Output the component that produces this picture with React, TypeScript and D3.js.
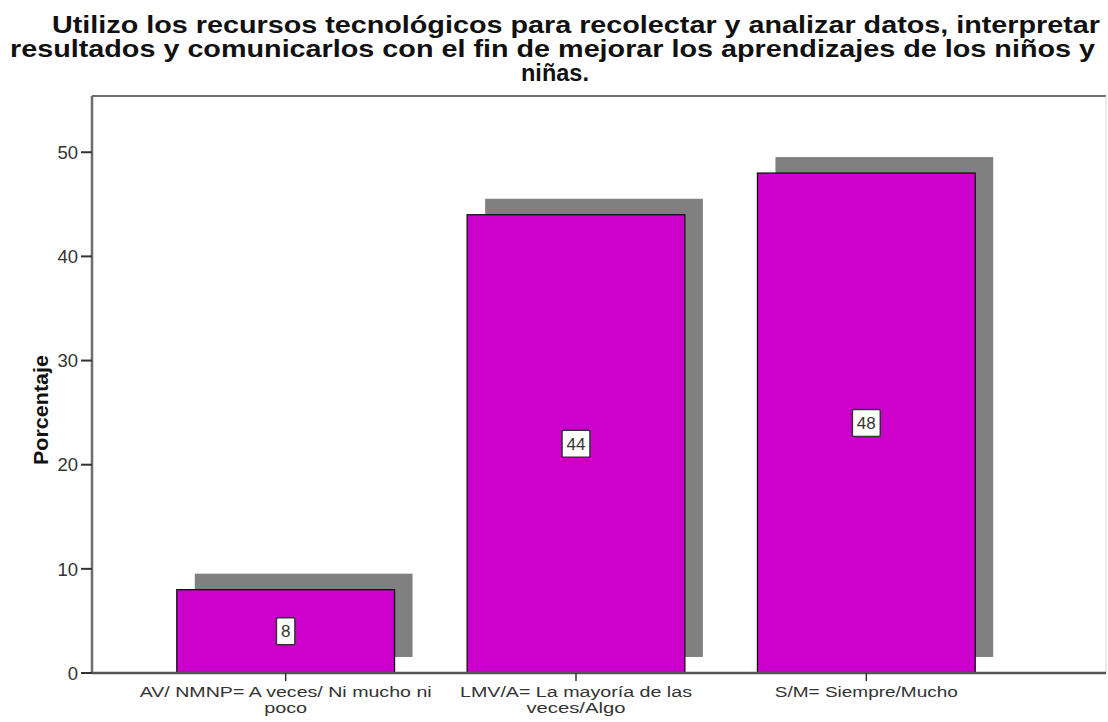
import React, { useEffect, useRef } from "react";
import * as d3 from "d3";

const titleLines = [
  "Utilizo los recursos tecnológicos para recolectar y analizar datos, interpretar",
  "resultados y comunicarlos con el fin de mejorar los aprendizajes de los niños y",
  "niñas.",
];
const categories = [
  "AV/ NMNP= A veces/ Ni mucho ni poco",
  "LMV/A= La mayoría de las veces/Algo",
  "S/M= Siempre/Mucho",
];
const categoryLines = [
  ["AV/ NMNP= A veces/ Ni mucho ni", "poco"],
  ["LMV/A= La mayoría de las", "veces/Algo"],
  ["S/M= Siempre/Mucho"],
];
const values = [8, 44, 48];
const yTicks = [0, 10, 20, 30, 40, 50];
const yLabel = "Porcentaje";

const W = 1108;
const H = 722;

export default function App() {
  const ref = useRef<SVGSVGElement>(null);

  useEffect(() => {
    const svg = d3.select(ref.current);
    svg.selectAll("*").remove();
    const font = "'Liberation Sans', Arial, sans-serif";

    const left = 92, right = 1106, top = 96, bottom = 673;
    const x = d3.scaleBand<string>().domain(categories).range([140.5, 1011.5]).paddingInner(0.25).paddingOuter(0.125);
    const y = d3.scaleLinear().domain([0, 55.4]).range([bottom, top]);

    // title
    const titleStarts = [52, 10, 521];
    const titleLens = [1048, 1085, 68];
    const tBase = [33, 57, 81];
    titleLines.forEach((t, i) => {
      svg.append("text")
        .attr("x", titleStarts[i]).attr("y", tBase[i])
        .attr("font-family", font).attr("font-weight", "bold").attr("font-size", 23.5)
        .attr("fill", "#111")
        .attr("textLength", titleLens[i]).attr("lengthAdjust", "spacingAndGlyphs")
        .text(t);
    });

    // frame
    svg.append("line").attr("x1", left).attr("x2", right).attr("y1", top).attr("y2", top)
      .attr("stroke", "#6e6e6e").attr("stroke-width", 2);
    svg.append("line").attr("x1", right).attr("x2", right).attr("y1", top).attr("y2", bottom)
      .attr("stroke", "#d8d8d8").attr("stroke-width", 1);

    // shadows
    const dx = 18, dy = -16;
    svg.append("g").selectAll("rect").data(values).join("rect")
      .attr("x", (d, i) => (x(categories[i]) as number) + dx)
      .attr("y", (d) => y(d) + dy)
      .attr("width", x.bandwidth())
      .attr("height", (d) => bottom - y(d))
      .attr("fill", "#808080");

    // bars
    svg.append("g").selectAll("rect").data(values).join("rect")
      .attr("x", (d, i) => x(categories[i]) as number)
      .attr("y", (d) => y(d))
      .attr("width", x.bandwidth())
      .attr("height", (d) => bottom - y(d))
      .attr("fill", "#cc00cc")
      .attr("stroke", "#111").attr("stroke-width", 1.3);

    // axes
    const yAxis = svg.append("g");
    yAxis.append("line").attr("x1", left).attr("x2", left).attr("y1", top).attr("y2", bottom)
      .attr("stroke", "#6e6e6e").attr("stroke-width", 2.5);
    yTicks.forEach((t) => {
      yAxis.append("line").attr("x1", left - 11).attr("x2", left).attr("y1", y(t)).attr("y2", y(t))
        .attr("stroke", "#333").attr("stroke-width", 2);
      yAxis.append("text").attr("x", left - 14).attr("y", y(t)).attr("dy", "0.36em")
        .attr("text-anchor", "end").attr("font-family", font).attr("font-size", 18.5)
        .attr("fill", "#333").text(String(t));
    });
    svg.append("line").attr("x1", left).attr("x2", right).attr("y1", bottom).attr("y2", bottom)
      .attr("stroke", "#555").attr("stroke-width", 2.5);

    // x ticks and labels
    const lineLens = [[292, 43], [232, 99], [183]];
    categories.forEach((c, i) => {
      const cx = (x(c) as number) + x.bandwidth() / 2;
      svg.append("line").attr("x1", cx).attr("x2", cx).attr("y1", bottom).attr("y2", bottom + 8)
        .attr("stroke", "#333").attr("stroke-width", 1.5);
      categoryLines[i].forEach((ln, j) => {
        svg.append("text").attr("x", cx).attr("y", 697 + j * 16)
          .attr("text-anchor", "middle").attr("font-family", font).attr("font-size", 15.5)
          .attr("fill", "#333")
          .attr("textLength", lineLens[i][j]).attr("lengthAdjust", "spacingAndGlyphs")
          .text(ln);
      });
    });

    // y label
    svg.append("text").attr("transform", `translate(48,410) rotate(-90)`)
      .attr("text-anchor", "middle").attr("font-family", font).attr("font-weight", "bold")
      .attr("font-size", 20).attr("fill", "#111")
      .attr("textLength", 110).attr("lengthAdjust", "spacingAndGlyphs")
      .text(yLabel);

    // value labels
    values.forEach((v, i) => {
      const cx = (x(categories[i]) as number) + x.bandwidth() / 2;
      const cy = y(v / 2);
      const g = svg.append("g");
      const rect = g.append("rect");
      const txt = g.append("text").attr("x", cx).attr("y", cy).attr("dy", "0.36em")
        .attr("text-anchor", "middle").attr("font-family", font).attr("font-size", 17)
        .attr("fill", "#333").text(String(v));
      const w = (txt.node() as SVGTextElement).getComputedTextLength() + 9;
      rect.attr("x", cx - w / 2).attr("y", cy - 13.5).attr("width", w).attr("height", 27)
        .attr("rx", 1.5).attr("fill", "#fff").attr("stroke", "#333").attr("stroke-width", 1.5);
    });
  }, []);

  return (
    <svg ref={ref} width={W} height={H}
      style={{ position: "absolute", left: 0, top: 0, background: "#fff" }} />
  );
}
